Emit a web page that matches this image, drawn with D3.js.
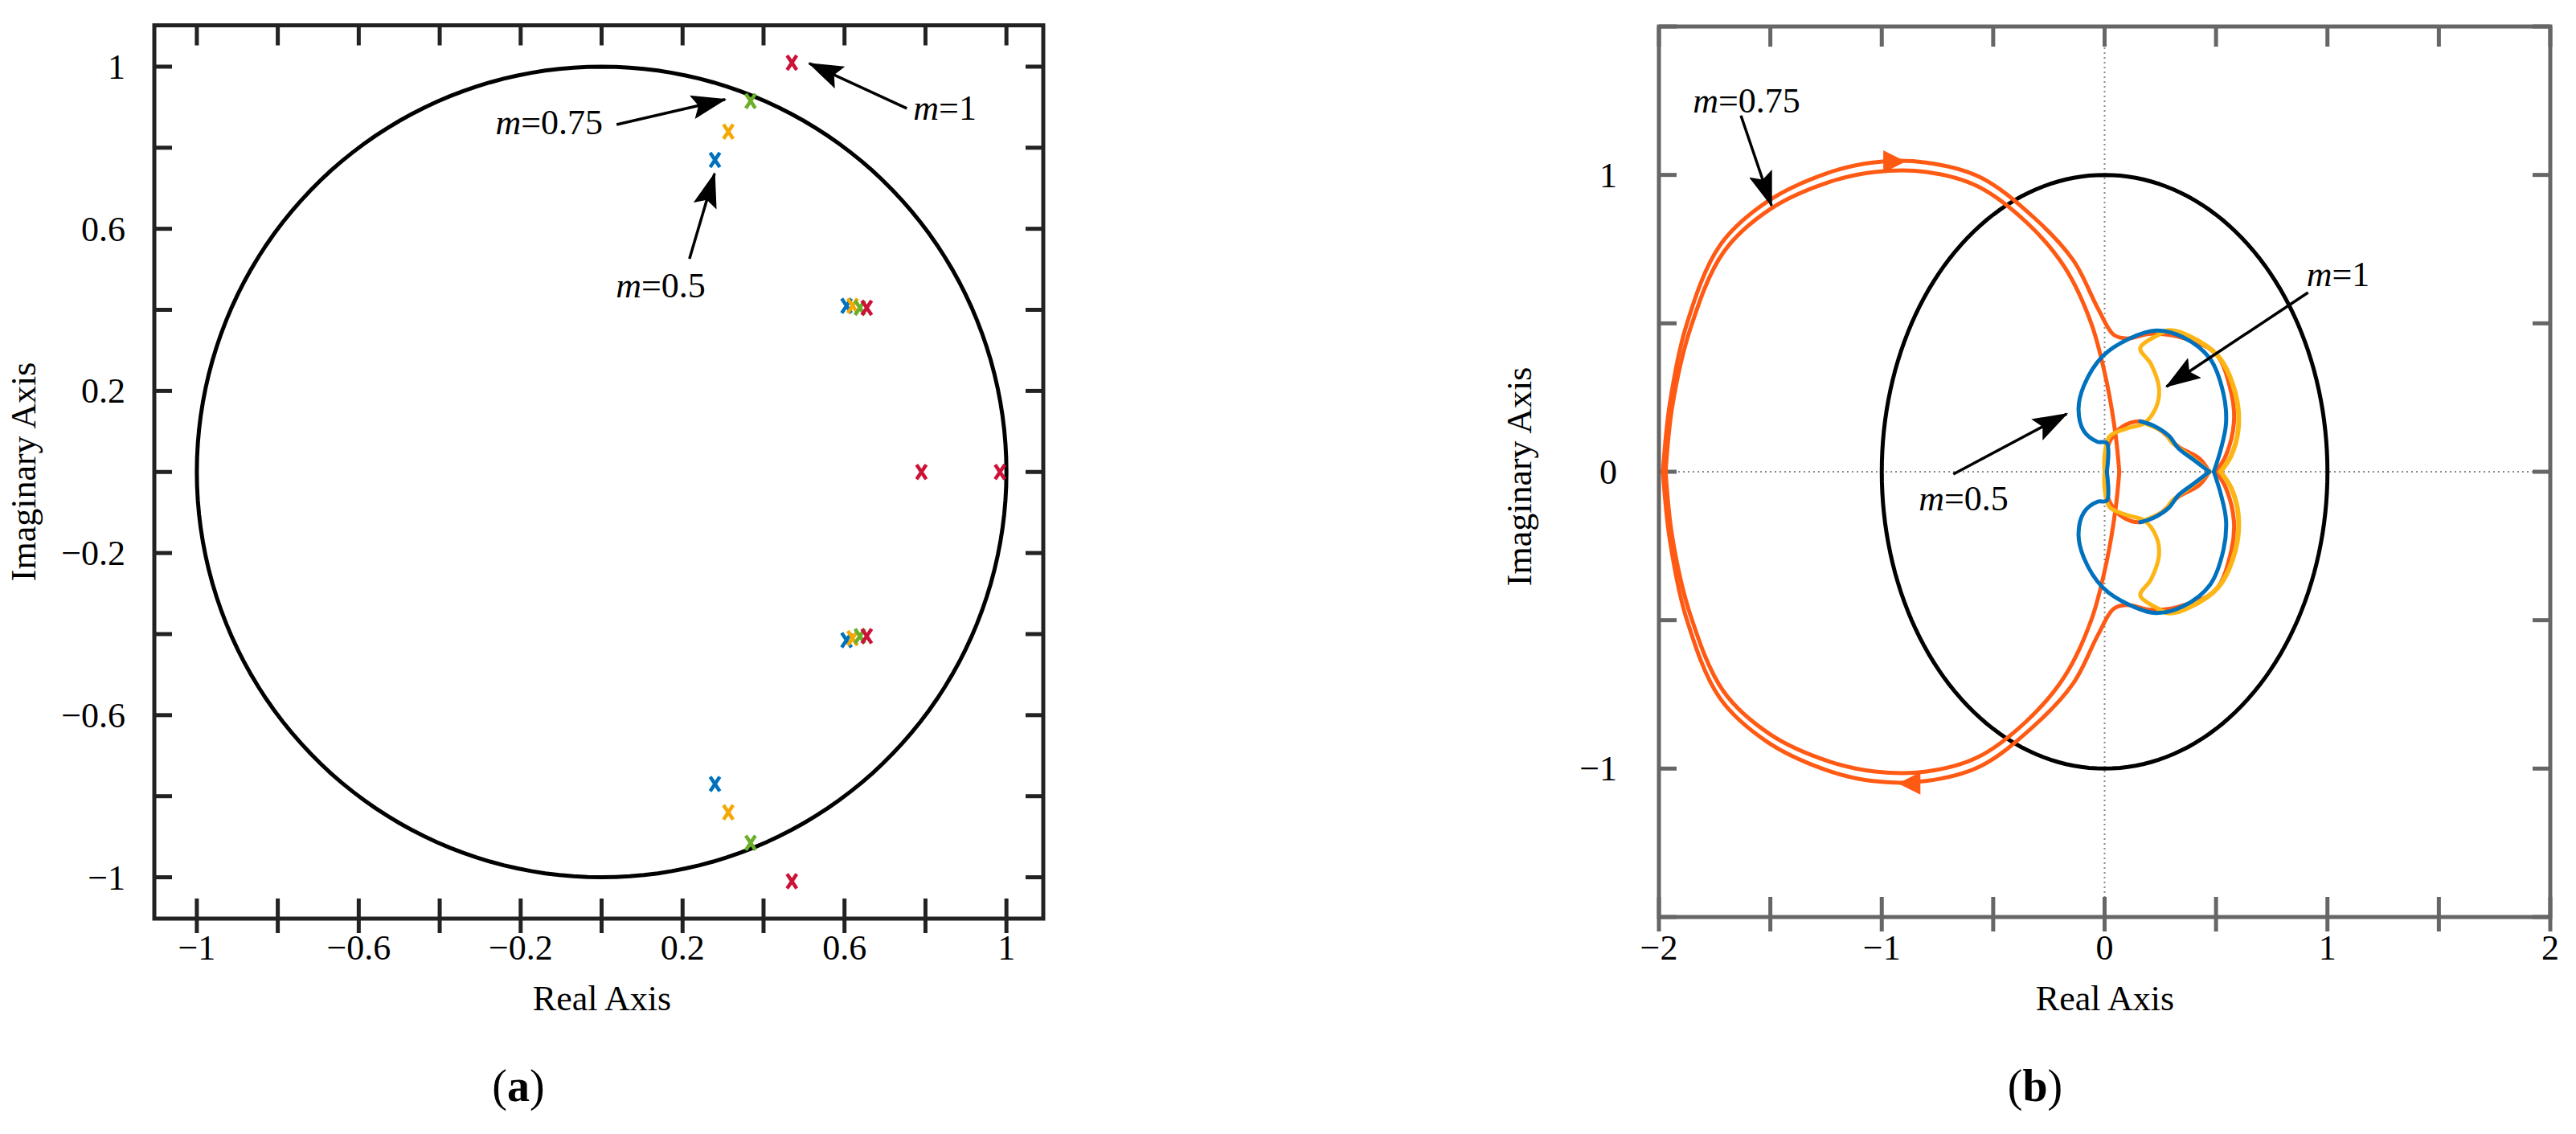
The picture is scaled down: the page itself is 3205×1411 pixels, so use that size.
<!DOCTYPE html>
<html>
<head>
<meta charset="utf-8">
<script src="https://cdn.jsdelivr.net/npm/d3@7"></script>
<style>
  body { margin: 0; background: #fff; }
  text { font-family: "Liberation Serif", "Times New Roman", serif; }
</style>
</head>
<body>
<svg id="fig" width="3205" height="1411"></svg>
<script>
// ---------- data: panel (a) pole map ----------
var polesM05  = [[0.28, 0.77], [0.28, -0.77], [0.605, 0.41], [0.605, -0.415]];
var polesM075 = [[0.313, 0.84], [0.313, -0.84], [0.62, 0.41], [0.62, -0.41]];
var polesM09  = [[0.368, 0.915], [0.368, -0.915], [0.638, 0.405], [0.638, -0.405]];
var polesM1   = [[0.47, 1.01], [0.47, -1.01], [0.79, 0], [0.984, 0], [0.655, 0.405], [0.655, -0.405]];
var aTickLabels = [-1, -0.6, -0.2, 0.2, 0.6, 1];
var aTicks = [-1, -0.8, -0.6, -0.4, -0.2, 0, 0.2, 0.4, 0.6, 0.8, 1];

// ---------- data: panel (b) Nyquist curves (upper half, mirrored below) ----------
var loopInner = [[-1.97,0],[-1.94,0.22],[-1.86,0.48],[-1.71,0.74],[-1.5,0.885],[-1.24,0.975],[-1.03,1.01],
  [-0.8,1.01],[-0.57,0.962],[-0.35,0.84],[-0.18,0.69],[-0.06,0.5],[0.01,0.3],[0.05,0.12],[0.066,0]];
var loopOuter = [[-1.982,0],[-1.952,0.225],[-1.877,0.493],[-1.727,0.762],[-1.518,0.908],[-1.249,1.005],
  [-1.04,1.042],[-0.803,1.042],[-0.56,0.993],[-0.321,0.859],[-0.141,0.713],[-0.03,0.55],[0.04,0.462],
  [0.1,0.449],[0.208,0.465],[0.33,0.455],[0.497,0.399],[0.569,0.264],[0.58,0.164],[0.545,0.056],[0.5,0]];
var redInner = [[0.47,0],[0.425,0.045],[0.33,0.085],[0.25,0.14],[0.16,0.17],[0.08,0.152],[0.025,0.105],[0.005,0.05],[0.0,0]];
var blueOuter = [[0.01,0],[0.01,0.097],[-0.032,0.101],[-0.093,0.137],[-0.117,0.21],[-0.093,0.29],[-0.008,0.39],
  [0.112,0.449],[0.232,0.476],[0.353,0.453],[0.473,0.381],[0.533,0.264],[0.545,0.164],[0.521,0.074],[0.49,0]];
var blueInner = [[0.47,0],[0.40,0.04],[0.33,0.08],[0.29,0.12],[0.22,0.155],[0.16,0.17]];
var yellowOuter = [[0.244,0.465],[0.292,0.476],[0.377,0.458],[0.509,0.39],[0.587,0.264],[0.6,0.146],[0.569,0.056],[0.52,0]];
var yellowCup = [[0.244,0.462],[0.16,0.417],[0.208,0.363],[0.244,0.282],[0.232,0.219],[0.178,0.164],
  [0.1,0.146],[0.022,0.119],[0,0.056],[0,0]];
var yellowInner = [[0.473,0],[0.377,0.056],[0.30,0.10],[0.27,0.13],[0.178,0.164]];
var bTickLabels = [-2, -1, 0, 1, 2];
var bTicksX = [-2, -1.5, -1, -0.5, 0, 0.5, 1, 1.5, 2];
var bTicksY = [-1.5, -1, -0.5, 0, 0.5, 1, 1.5];

var C_BLUE = '#0072BD', C_ORANGE = '#F5A800', C_GREEN = '#6AAF2A', C_RED = '#CC1236';
var C_LOOP = '#FF5A14', C_YEL = '#FDB515';

var svg = d3.select('#fig');
var defs = svg.append('defs');
defs.append('marker').attr('id', 'head').attr('markerUnits', 'userSpaceOnUse')
  .attr('markerWidth', 44).attr('markerHeight', 30).attr('refX', 42).attr('refY', 15).attr('orient', 'auto')
  .append('path').attr('d', 'M0,0L44,15L0,30L8,15Z').attr('fill', '#000');

function fmt(v) { return (v < 0 ? '\u2212' : '') + Math.abs(v); }
function mirror(pts) { return pts.map(function(p){ return [p[0], -p[1]]; }); }

function frame(g, x, y, ticksX, ticksY, labX, labY, color) {
  var x0 = x.range()[0], x1 = x.range()[1], y0 = y.range()[1], y1 = y.range()[0];
  ticksX.forEach(function(t){
    g.append('line').attr('x1', x(t)).attr('x2', x(t)).attr('y1', y1 + 18).attr('y2', y1 - 25).attr('stroke', color).attr('stroke-width', 5);
    g.append('line').attr('x1', x(t)).attr('x2', x(t)).attr('y1', y0).attr('y2', y0 + 25).attr('stroke', color).attr('stroke-width', 5);
  });
  ticksY.forEach(function(t){
    g.append('line').attr('x1', x0).attr('x2', x0 + 22).attr('y1', y(t)).attr('y2', y(t)).attr('stroke', color).attr('stroke-width', 5);
    g.append('line').attr('x1', x1).attr('x2', x1 - 22).attr('y1', y(t)).attr('y2', y(t)).attr('stroke', color).attr('stroke-width', 5);
  });
  g.append('rect').attr('x', x0).attr('y', y0).attr('width', x1 - x0).attr('height', y1 - y0)
    .attr('fill', 'none').attr('stroke', color).attr('stroke-width', 5);
  labX.forEach(function(t){
    g.append('text').attr('x', x(t)).attr('y', 1194).attr('text-anchor', 'middle').attr('font-size', 44).text(fmt(t));
  });
}

function mLabel(g, px, py, txt, anchor) {
  var t = g.append('text').attr('x', px).attr('y', py).attr('font-size', 44).attr('text-anchor', anchor || 'start');
  t.append('tspan').attr('font-style', 'italic').text('m');
  t.append('tspan').text(txt);
}
function arrow(g, x, y, a, b) {
  g.append('line').attr('x1', x(a[0])).attr('y1', y(a[1])).attr('x2', x(b[0])).attr('y2', y(b[1]))
    .attr('stroke', '#000').attr('stroke-width', 3.5).attr('marker-end', 'url(#head)');
}

// ---------- panel (a) ----------
var xa = d3.scaleLinear().domain([-1.105, 1.091]).range([192, 1298]);
var ya = d3.scaleLinear().domain([-1.102, 1.102]).range([1143, 31.5]);
var ga = svg.append('g');
frame(ga, xa, ya, aTicks, aTicks, aTickLabels, aTickLabels, '#222');
aTickLabels.forEach(function(t){
  ga.append('text').attr('x', 156).attr('y', ya(t) + 15).attr('text-anchor', 'end').attr('font-size', 44).text(fmt(t));
});
var circ = d3.range(0, 361, 2).map(function(a){ return [Math.cos(a * Math.PI / 180), Math.sin(a * Math.PI / 180)]; });
var lineA = d3.line().x(function(d){ return xa(d[0]); }).y(function(d){ return ya(d[1]); });
ga.append('path').attr('d', lineA(circ)).attr('fill', 'none').attr('stroke', '#000').attr('stroke-width', 5);

[[polesM05, C_BLUE], [polesM075, C_ORANGE], [polesM09, C_GREEN], [polesM1, C_RED]].forEach(function(s){
  ga.selectAll(null).data(s[0]).enter().append('path')
    .attr('transform', function(d){ return 'translate(' + xa(d[0]) + ',' + ya(d[1]) + ')'; })
    .attr('d', 'M-6,-9L6,9M6,-9L-6,9')
    .attr('stroke', s[1]).attr('stroke-width', 4.5).attr('fill', 'none');
});
arrow(ga, xa, ya, [0.754, 0.897], [0.513, 1.008]);
mLabel(ga, xa(0.77), ya(0.869), '=1');
arrow(ga, xa, ya, [0.037, 0.857], [0.305, 0.919]);
mLabel(ga, xa(0.003), ya(0.833), '=0.75', 'end');
arrow(ga, xa, ya, [0.217, 0.526], [0.279, 0.736]);
mLabel(ga, xa(0.146), ya(0.43), '=0.5', 'middle');
ga.append('text').attr('x', 749).attr('y', 1257).attr('text-anchor', 'middle').attr('font-size', 44).text('Real Axis');
ga.append('text').attr('transform', 'translate(44,587) rotate(-90)').attr('text-anchor', 'middle').attr('font-size', 44).text('Imaginary Axis');
var ta = ga.append('text').attr('x', 645).attr('y', 1370).attr('text-anchor', 'middle').attr('font-size', 56);
ta.append('tspan').text('('); ta.append('tspan').attr('font-weight', 'bold').text('a'); ta.append('tspan').text(')');

// ---------- panel (b) ----------
var xb = d3.scaleLinear().domain([-2, 2]).range([2064, 3173]);
var yb = d3.scaleLinear().domain([-1.5, 1.5]).range([1141, 33]);
var gb = svg.append('g');
gb.append('line').attr('x1', xb(-2)).attr('x2', xb(2)).attr('y1', yb(0)).attr('y2', yb(0))
  .attr('stroke', '#888').attr('stroke-width', 2).attr('stroke-dasharray', '2,4');
gb.append('line').attr('x1', xb(0)).attr('x2', xb(0)).attr('y1', yb(-1.5)).attr('y2', yb(1.5))
  .attr('stroke', '#888').attr('stroke-width', 2).attr('stroke-dasharray', '2,4');
frame(gb, xb, yb, bTicksX, bTicksY, bTickLabels, [], '#666');
[-1, 0, 1].forEach(function(t){
  gb.append('text').attr('x', 2012).attr('y', yb(t) + 15).attr('text-anchor', 'end').attr('font-size', 44).text(fmt(t));
});
var lineB = d3.line().x(function(d){ return xb(d[0]); }).y(function(d){ return yb(d[1]); }).curve(d3.curveCatmullRom);
var lineBL = d3.line().x(function(d){ return xb(d[0]); }).y(function(d){ return yb(d[1]); });
gb.append('path').attr('d', lineBL(circ)).attr('fill', 'none').attr('stroke', '#000').attr('stroke-width', 5);

function drawSym(pts, color, w) {
  [pts, mirror(pts)].forEach(function(p){
    gb.append('path').attr('d', lineB(p)).attr('fill', 'none').attr('stroke', color)
      .attr('stroke-width', w).attr('stroke-linejoin', 'round').attr('stroke-linecap', 'round');
  });
}
drawSym(loopInner, C_LOOP, 5);
drawSym(loopOuter, C_LOOP, 5);
drawSym(yellowOuter, C_YEL, 6);
drawSym(redInner, C_LOOP, 5);
drawSym(yellowCup, C_YEL, 5);
drawSym(yellowInner, C_YEL, 5);
drawSym(blueOuter, C_BLUE, 5);
drawSym(blueInner, C_BLUE, 5);

// direction arrows on big loop
gb.append('path').attr('transform', 'translate(' + xb(-0.95) + ',' + yb(1.045) + ')')
  .attr('d', 'M-12,-14L16,0L-12,14Z').attr('fill', C_LOOP);
gb.append('path').attr('transform', 'translate(' + xb(-0.87) + ',' + yb(-1.05) + ')')
  .attr('d', 'M12,-14L-16,0L12,14Z').attr('fill', C_LOOP);

arrow(gb, xb, yb, [-1.632, 1.2], [-1.495, 0.897]);
mLabel(gb, xb(-1.848), yb(1.211), '=0.75');
arrow(gb, xb, yb, [0.913, 0.604], [0.278, 0.287]);
mLabel(gb, xb(0.906), yb(0.626), '=1');
arrow(gb, xb, yb, [-0.679, -0.008], [-0.17, 0.195]);
mLabel(gb, xb(-0.834), yb(-0.13), '=0.5');
gb.append('text').attr('x', 2619).attr('y', 1257).attr('text-anchor', 'middle').attr('font-size', 44).text('Real Axis');
gb.append('text').attr('transform', 'translate(1905,593) rotate(-90)').attr('text-anchor', 'middle').attr('font-size', 44).text('Imaginary Axis');
var tb = gb.append('text').attr('x', 2532).attr('y', 1370).attr('text-anchor', 'middle').attr('font-size', 56);
tb.append('tspan').text('('); tb.append('tspan').attr('font-weight', 'bold').text('b'); tb.append('tspan').text(')');
</script>
</body>
</html>
